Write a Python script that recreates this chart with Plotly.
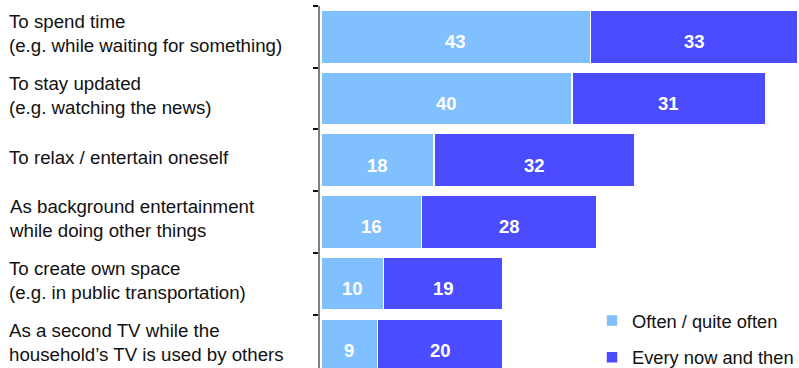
import plotly.graph_objects as go

categories = [
    "To spend time<br>(e.g. while waiting for something)",
    "To stay updated<br>(e.g. watching the news)",
    "To relax / entertain oneself",
    "As background entertainment<br>while doing other things",
    "To create own space<br>(e.g. in public transportation)",
    "As a second TV while the<br>household\u2019s TV is used by others",
]
often = [43, 40, 18, 16, 10, 9]
now_then = [33, 31, 32, 28, 19, 20]
series_names = ["Often / quite often", "Every now and then"]
colors = ["#80C0FF", "#4B4BFF"]

FONT = "Liberation Sans, Arial, sans-serif"
ypos = list(range(len(categories)))

fig = go.Figure()
for name, vals, col, grp in [(series_names[0], often, colors[0], "a"),
                             (series_names[1], now_then, colors[1], "b")]:
    fig.add_trace(go.Bar(
        y=ypos, x=vals, name=name, orientation="h",
        marker=dict(color=col, line=dict(color="white", width=1.5)),
        width=0.86, legendgroup=grp, hoverinfo="x+name",
    ))

annotations = []
# category labels
for i, c in enumerate(categories):
    annotations.append(dict(
        x=-313 / 479, xref="paper", y=i, yref="y", text=c, showarrow=False,
        xanchor="left", align="left", yanchor="middle", yshift=3,
        font=dict(family=FONT, size=18.7, color="#111111"),
    ))
# value labels
for i in range(len(categories)):
    for base, v in [(0, often[i]), (often[i], now_then[i])]:
        annotations.append(dict(
            x=base + v / 2, xref="x", y=i, yref="y", text=f"<b>{v}</b>",
            showarrow=False, xanchor="center", yanchor="middle", yshift=-5,
            font=dict(family=FONT, size=18.5, color="white"),
        ))

PX_PER_UNIT = 6.27
X0 = -1 / PX_PER_UNIT

fig.update_layout(
    barmode="stack",
    width=799, height=368,
    margin=dict(l=320, r=0, t=6, b=0, pad=0, autoexpand=False),
    paper_bgcolor="white", plot_bgcolor="white",
    font=dict(family=FONT, size=18, color="#111111"),
    showlegend=True,
    legend=dict(
        x=(592 - 320) / 479, xanchor="left", xref="paper",
        y=-8 / 362, yanchor="bottom", yref="paper",
        bgcolor="rgba(0,0,0,0)", tracegroupgap=10,
        font=dict(family=FONT, size=18.3, color="#111111"),
        traceorder="grouped",
    ),
    xaxis=dict(range=[X0, X0 + 479 / PX_PER_UNIT], visible=False, fixedrange=True),
    yaxis=dict(
        range=[-0.5 + 362 / 61.7, -0.5], showgrid=False, zeroline=False,
        tickvals=[-0.5, 0.5, 1.5, 2.5, 3.5, 4.5, 5.5], ticktext=[""] * 7,
        ticks="outside", ticklen=5, tickwidth=1.5, tickcolor="#111111",
        showline=True, linecolor="#808080", linewidth=2, fixedrange=True,
    ),
    annotations=annotations,
)

fig.write_html("out.html", config={"displayModeBar": False},
               post_script="document.body.style.margin='0';")
